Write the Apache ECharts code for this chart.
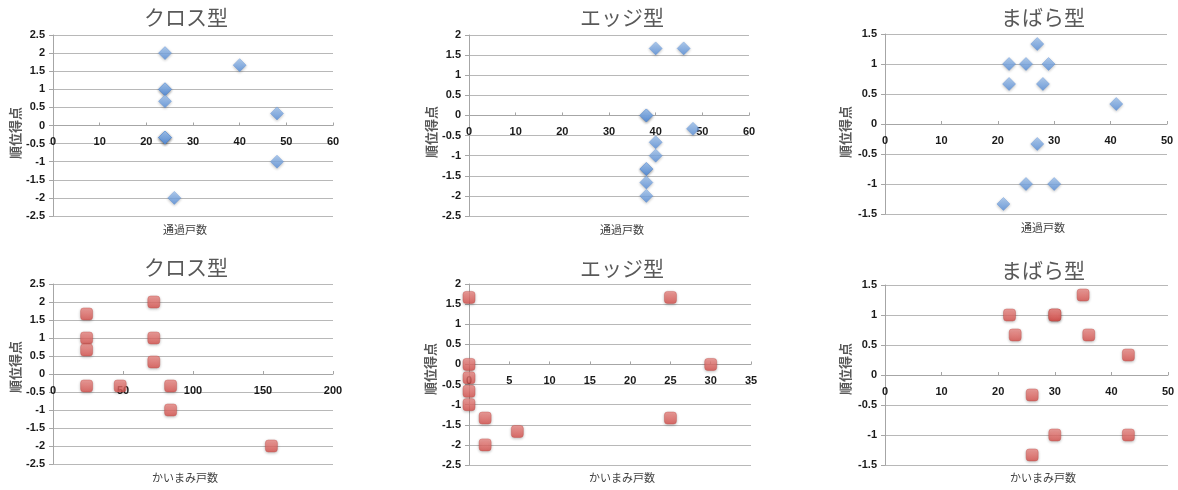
<!DOCTYPE html>
<html>
<head>
<meta charset="utf-8">
<script src="https://cdn.jsdelivr.net/npm/echarts@6/dist/echarts.min.js"></script>
<style>
html,body{margin:0;padding:0;background:#fff;}
#c{width:1178px;height:490px;}
</style>
</head>
<body>
<div id="c"></div>
<script>
// ---- data ----
const titles = ['クロス型', 'エッジ型', 'まばら型'];
const passName = '通過戸数';
const peekName = 'かいまみ戸数';
const yName = '順位得点';

const crossPassX = [24, 40, 24, 24, 24, 48, 24, 24, 24, 48, 26];
const crossPassY = [2, 1.667, 1, 1, 0.667, 0.333, -0.333, -0.333, -0.333, -1, -2];
const edgePassX = [40, 46, 38, 38, 48, 40, 40, 38, 38, 38, 38];
const edgePassY = [1.667, 1.667, 0, 0, -0.333, -0.667, -1, -1.333, -1.333, -1.667, -2];
const sparsePassX = [27, 22, 25, 29, 22, 28, 41, 27, 25, 30, 21];
const sparsePassY = [1.333, 1, 1, 1, 0.667, 0.667, 0.333, -0.333, -1, -1, -1.333];

const crossPeekX = [24, 24, 24, 24, 48, 72, 72, 72, 84, 84, 156];
const crossPeekY = [1.667, 1, 0.667, -0.333, -0.333, 2, 1, 0.333, -0.333, -1, -2];
const edgePeekX = [0, 25, 0, 30, 0, 0, 0, 2, 25, 6, 2];
const edgePeekY = [1.667, 1.667, 0, 0, -0.333, -0.667, -1, -1.333, -1.333, -1.667, -2];
const sparsePeekX = [35, 22, 30, 30, 23, 36, 43, 26, 30, 43, 26];
const sparsePeekY = [1.333, 1, 1, 1, 0.667, 0.667, 0.333, -0.333, -1, -1, -1.333];

const xRanges = [[0, 60, 10], [0, 60, 10], [0, 50, 10], [0, 200, 50], [0, 35, 5], [0, 50, 10]];
const yRanges = [[-2.5, 2.5], [-2.5, 2], [-1.5, 1.5], [-2.5, 2.5], [-2.5, 2], [-1.5, 1.5]];

// ---- layout ----
const grids = [
  {left: 53, top: 35, width: 280, height: 181},
  {left: 469, top: 35, width: 280, height: 181},
  {left: 885, top: 34, width: 282, height: 180},
  {left: 53, top: 284, width: 280, height: 180},
  {left: 469, top: 284, width: 282, height: 181},
  {left: 885, top: 285, width: 283, height: 180}
];
const titlePos = [[186, 17], [622, 17], [1043, 17], [186, 267], [622, 268], [1043, 270]];
const xNamePos = [[185, 230], [622, 230], [1043, 228], [185, 478], [622, 478], [1043, 478]];
const yNamePos = [[15, 133], [431, 132], [845, 132], [15, 367], [430, 369], [845, 369]];

const seriesX = [crossPassX, edgePassX, sparsePassX, crossPeekX, edgePeekX, sparsePeekX];
const seriesY = [crossPassY, edgePassY, sparsePassY, crossPeekY, edgePeekY, sparsePeekY];

const labelFont = {fontFamily: 'Liberation Sans', fontSize: 11, fontWeight: 'bold', color: '#1a1a1a'};

const blueStyle = {
  color: new echarts.graphic.LinearGradient(0, 0, 0, 1, [
    {offset: 0, color: '#a6c9f3'}, {offset: 1, color: '#5890dc'}
  ]),
  borderColor: '#5a8ed6', borderWidth: 0.5,
  shadowBlur: 3, shadowColor: 'rgba(0,0,0,0.3)', shadowOffsetY: 1
};
const redStyle = {
  color: new echarts.graphic.LinearGradient(0, 0, 0, 1, [
    {offset: 0, color: '#f08e8a'}, {offset: 1, color: '#d9514d'}
  ]),
  borderColor: '#c04a46', borderWidth: 0.5,
  shadowBlur: 3, shadowColor: 'rgba(0,0,0,0.3)', shadowOffsetY: 1
};

const xAxes = [], yAxes = [], series = [], graphics = [];
for (let i = 0; i < 6; i++) {
  const ymin = yRanges[i][0], ymax = yRanges[i][1];
  // place the horizontal axis where y = 0 sits inside the grid
  const zeroOffset = -grids[i].height * (0 - ymin) / (ymax - ymin);
  xAxes.push({
    gridIndex: i, type: 'value', min: xRanges[i][0], max: xRanges[i][1], interval: xRanges[i][2],
    position: 'bottom', offset: zeroOffset,
    axisLine: {onZero: false, lineStyle: {color: '#a6a6a6', width: 1}},
    axisTick: {show: true, inside: true, length: 3, lineStyle: {color: '#a6a6a6'}},
    axisLabel: Object.assign({margin: 11}, labelFont),
    splitLine: {show: false}
  });
  yAxes.push({
    gridIndex: i, type: 'value', min: ymin, max: ymax, interval: 0.5,
    axisLine: {show: true, onZero: false, lineStyle: {color: '#a6a6a6', width: 1}},
    axisTick: {show: true, inside: false, length: 4, lineStyle: {color: '#a6a6a6'}},
    axisLabel: Object.assign({margin: 8}, labelFont),
    splitLine: {show: true, lineStyle: {color: '#b8b8b8', width: 1}}
  });
  const pts = seriesX[i].map((x, k) => [x, seriesY[i][k]]);
  const top = i < 3;
  series.push({
    type: 'scatter', xAxisIndex: i, yAxisIndex: i, data: pts,
    symbol: top ? 'diamond' : 'roundRect',
    symbolSize: top ? 13 : 12,
    itemStyle: top ? blueStyle : redStyle,
    silent: true
  });
  graphics.push({
    type: 'text', x: titlePos[i][0], y: titlePos[i][1],
    style: {text: titles[i % 3], fill: '#595959', font: '21px "Noto Sans CJK JP"', align: 'center', verticalAlign: 'middle'}
  });
  graphics.push({
    type: 'text', x: xNamePos[i][0], y: xNamePos[i][1],
    style: {text: top ? passName : peekName, fill: '#404040', font: '11px "Noto Sans CJK JP"', align: 'center', verticalAlign: 'middle'}
  });
  graphics.push({
    type: 'text', x: yNamePos[i][0], y: yNamePos[i][1], rotation: Math.PI / 2,
    style: {text: yName, fill: '#595959', font: 'bold 13px "Noto Sans CJK JP"', align: 'center', verticalAlign: 'middle'}
  });
}

const chart = echarts.init(document.getElementById('c'));
chart.setOption({
  animation: false,
  backgroundColor: '#ffffff',
  grid: grids,
  xAxis: xAxes,
  yAxis: yAxes,
  series: series,
  graphic: graphics
});
</script>
</body>
</html>
